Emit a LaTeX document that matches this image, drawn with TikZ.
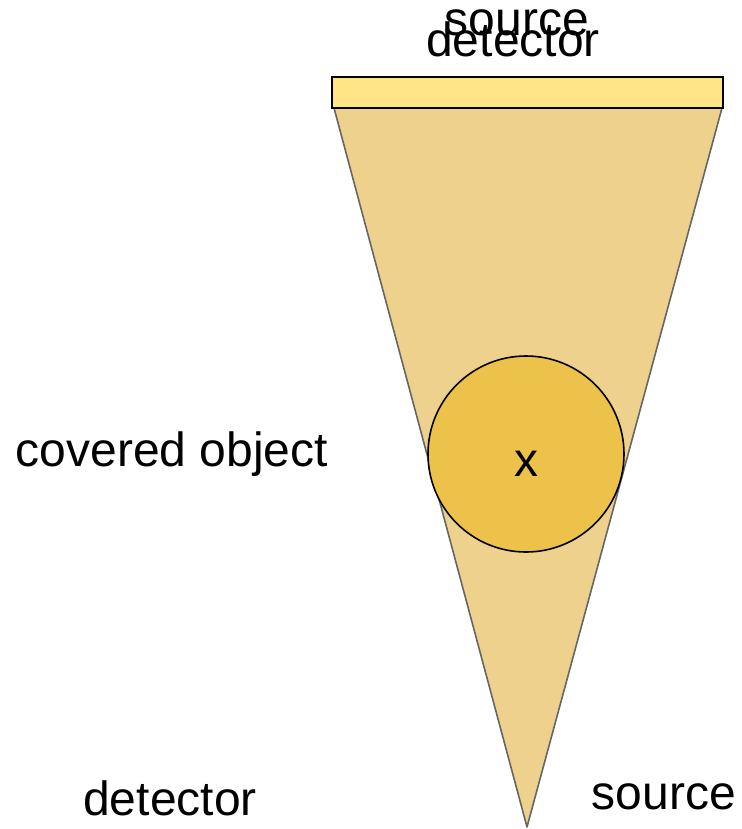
\documentclass[tikz,border=0pt]{standalone}
\usepackage{fontspec}
\setmainfont{Liberation Sans}
\definecolor{barfill}{HTML}{FFE587}
\definecolor{conefill}{HTML}{EDD18D}
\definecolor{objfill}{HTML}{EDC24A}
\definecolor{coneline}{HTML}{666666}
\begin{document}
\begin{tikzpicture}[x=0.75pt,y=-0.75pt,
  lbl/.style={anchor=base,inner sep=0pt,font=\fontsize{36}{40}\selectfont}]
\useasboundingbox (0,0) rectangle (742,829);
\coordinate (tl) at (334,108);
\coordinate (tr) at (722,108);
\coordinate (apex) at (527,827);
\draw[coneline,fill=conefill,line width=1.2pt,line join=round] (tl) -- (tr) -- (apex) -- cycle;
\node[draw=black,fill=barfill,line width=1.5pt,minimum width=391*0.75pt,minimum height=31*0.75pt,inner sep=0pt] (bar) at (527.5,92.5) {};
\node[circle,draw=black,fill=objfill,line width=1.2pt,minimum size=196*0.75pt,inner sep=0pt] (obj) at (526,454) {};
\node[lbl] (x) at (526,476) {x};
\node[lbl] (src1) at (517,35) {source};
\node[lbl] (det1) at (513,56) {detector};
\node[lbl] (cov) at (172,466) {covered object};
\node[lbl] (det2) at (170,815) {detector};
\node[lbl] (src2) at (664,809) {source};
\end{tikzpicture}
\end{document}
